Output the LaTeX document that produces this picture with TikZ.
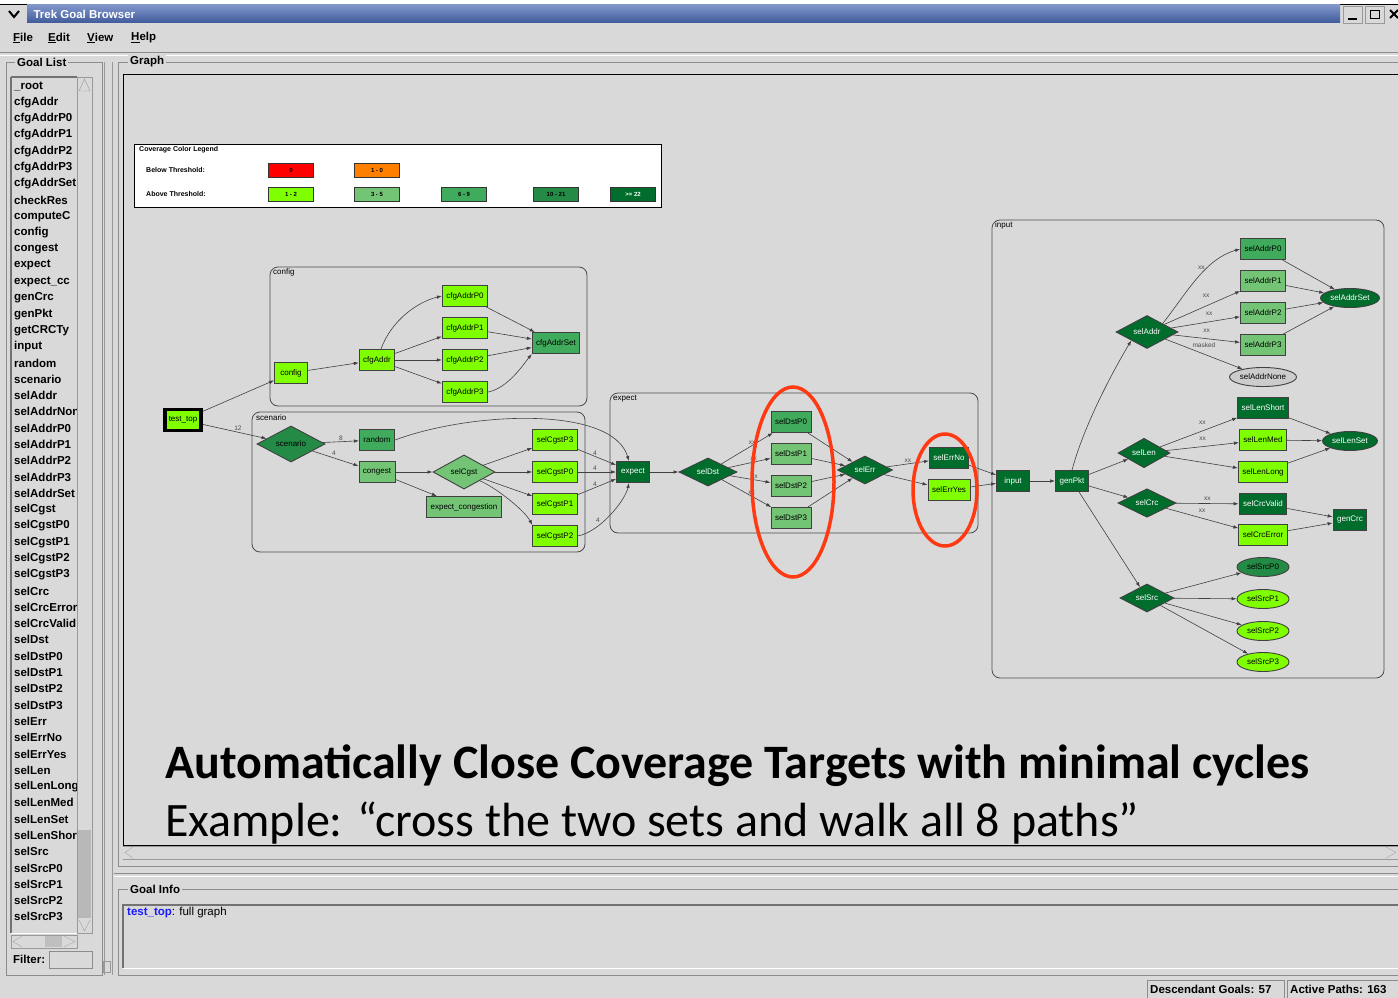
\documentclass[tikz,border=0pt]{standalone}
\usepackage{fontspec}
\setmainfont{Liberation Sans}
\newfontfamily\talkfont{Carlito}
\usetikzlibrary{arrows.meta,shapes.geometric}

\definecolor{guigray}{HTML}{D9D9D9}
\definecolor{titleblue}{HTML}{4A69B5}
\definecolor{cLime}{HTML}{80FF00}
\definecolor{cLight}{HTML}{74C476}
\definecolor{cMed}{HTML}{41AB5D}
\definecolor{cDark}{HTML}{238B45}
\definecolor{cDarkest}{HTML}{006D2C}
\definecolor{cOrange}{HTML}{FF8000}
\definecolor{ringred}{HTML}{FF3A12}
\definecolor{linkblue}{HTML}{1A1AFF}

\newcommand{\gfont}{\fontsize{8}{9}\selectfont}
\newcommand{\uifont}{\fontsize{11.5}{12}\selectfont\bfseries}

\begin{document}
\begin{tikzpicture}[x=1pt, y=-1pt,
    gbox/.style={draw=black!75, line width=0.9pt, rectangle, minimum height=21, minimum width=33, inner xsep=4pt, font=\gfont},
    gdia/.style={draw=black!75, line width=0.9pt, diamond, minimum width=58, minimum height=28, inner sep=0pt, font=\gfont},
    gell/.style={draw=black!75, line width=0.9pt, ellipse, minimum width=52, minimum height=19, inner sep=0pt, font=\gfont},
    dk/.style={fill=cDarkest, text=white},
    gedge/.style={-{Latex[length=5pt,width=3.5pt]}, draw=black!75, line width=0.6pt},
    elbl/.style={font=\fontsize{6.5}{7}\selectfont, text=black!70, inner sep=1pt},
    cluster/.style={draw=black!70, line width=0.8pt, rounded corners=8pt},
    swatch/.style={draw=black!80, minimum width=45, minimum height=14, inner sep=0pt, font=\fontsize{6}{6}\selectfont\bfseries},
    ring/.style={draw=ringred, line width=3.5pt},
    ui/.style={font=\uifont, inner sep=1pt},
    frametitle/.style={font=\uifont, fill=guigray, inner sep=2pt, anchor=west}]

    % window background
    \useasboundingbox (0,0) rectangle (1398,998);
    \fill[guigray] (0,0) rectangle (1398,998);
    \fill[white] (0,0) rectangle (1398,4);
    \draw[black, line width=1pt] (0,4.5) -- (1398,4.5);

    % title bar
    \shade[top color=titleblue!70!white, bottom color=titleblue!85!black] (27,5) rectangle (1340,23);
    \draw[black, line width=2pt] (9,11) -- (14,17) -- (19,11);
    \node[font=\fontsize{11.5}{12}\selectfont\bfseries, text=white, anchor=west] (title) at (30,14) {Trek Goal Browser};
    \draw[black!40] (1343,6) rectangle (1362,23) (1365,6) rectangle (1384,23);
    \draw[black, line width=2pt] (1348,19) -- (1357,19);
    \draw[black, line width=1pt] (1370,11) rectangle (1379,19);
    \draw[black, line width=2pt] (1390,10) -- (1398,18) (1390,18) -- (1398,10);

    % menu bar
    \node[ui, anchor=west] (mfile) at (12,38) {\underline{F}ile};
    \node[ui, anchor=west] (medit) at (47,38) {\underline{E}dit};
    \node[ui, anchor=west] (mview) at (86,38) {\underline{V}iew};
    \node[ui, anchor=west] (mhelp) at (130,38) {\underline{H}elp};
    \draw[black!45, line width=1pt] (0,53) -- (1398,53);
    \draw[white] (0,55) -- (1398,55);

    % goal list panel
    \draw[black!45] (6,62) rectangle (102,975);
    \node[frametitle] (goallist) at (15,62) {Goal List};
    \draw[black!55, line width=1.2pt] (11,77) -- (11,933);
    \draw[black!55, line width=1.2pt] (11,77) -- (77,77);
    \draw[white, line width=1pt] (11,933) -- (92,933);
    \draw[black!40] (77,77) rectangle (92,933);
    \fill[black!28] (78,830) rectangle (91,918);
    \draw[black!40] (79,91) -- (84.5,79) -- (90,91) -- cycle;
    \draw[black!40] (79,920) -- (84.5,931) -- (90,920);
    \begin{scope}
        \clip (12,78) rectangle (76,932);
        \foreach \gname [count=\i from 0] in {\_root, cfgAddr, cfgAddrP0, cfgAddrP1, cfgAddrP2, cfgAddrP3, cfgAddrSet, checkRes, computeC, config, congest, expect, expect\_cc, genCrc, genPkt, getCRCTy, input, random, scenario, selAddr, selAddrNone, selAddrP0, selAddrP1, selAddrP2, selAddrP3, selAddrSet, selCgst, selCgstP0, selCgstP1, selCgstP2, selCgstP3, selCrc, selCrcError, selCrcValid, selDst, selDstP0, selDstP1, selDstP2, selDstP3, selErr, selErrNo, selErrYes, selLen, selLenLong, selLenMed, selLenSet, selLenShort, selSrc, selSrcP0, selSrcP1, selSrcP2, selSrcP3}
            \node[ui, anchor=west, inner sep=0pt] (gl\i) at (14,{86+16.29*\i}) {\gname};
    \end{scope}
    \draw[black!40] (11,935) rectangle (77,948);
    \fill[black!25] (45,936) rectangle (62,947);
    \draw[black!35] (22,936) -- (13,941.5) -- (22,947);
    \draw[black!35] (64,936) -- (75,941.5) -- (64,947);
    \node[ui, anchor=west] (filter) at (12,959) {Filter:};
    \draw[black!45] (49,951) rectangle (92,968);
    \draw[black!40] (104,62) -- (104,975) (112,62) -- (112,975);
    \draw[black!40] (103,961) rectangle (110,972);

    % graph panel
    \draw[black!45] (118,62) -- (118,866) -- (1398,866);
    \draw[black!45] (118,62) -- (1398,62);
    \node[frametitle] (graphtitle) at (128,62) {Graph};
    \draw[black, line width=1pt] (1398,75) -- (123,75) -- (123,845) -- (1398,845);
    \draw[black!40] (123,846) -- (1398,846) (123,859) -- (1398,859);
    \draw[black!35] (133,847) -- (125,852.5) -- (133,858);
    \draw[black!35] (1386,847) -- (1396,852.5) -- (1386,858);
    \draw[black!45] (114,873) -- (1398,873);
    \draw[white] (114,876) -- (1398,876);

    % legend
    \draw[black, fill=white] (134,144) rectangle (661,207);
    \node[font=\fontsize{7}{7}\selectfont\bfseries, anchor=west, inner sep=0pt] (legtitle) at (139,150) {Coverage Color Legend};
    \node[font=\fontsize{7}{7}\selectfont\bfseries, anchor=west, inner sep=0pt] (legbelow) at (146,170) {Below Threshold:};
    \node[font=\fontsize{7}{7}\selectfont\bfseries, anchor=west, inner sep=0pt] (legabove) at (146,194) {Above Threshold:};
    \node[swatch, fill=red] (sw0) at (291,170) {0};
    \node[swatch, fill=cOrange] (sw1) at (377,170) {1 - 0};
    \node[swatch, fill=cLime] (sw2) at (291,194) {1 - 2};
    \node[swatch, fill=cLight] (sw3) at (377,194) {3 - 5};
    \node[swatch, fill=cMed] (sw4) at (464,194) {6 - 9};
    \node[swatch, fill=cDark] (sw5) at (556,194) {10 - 21};
    \node[swatch, fill=cDarkest, text=white] (sw6) at (633,194) {>= 22};

    % clusters
    \draw[cluster] (270,267) rectangle (587,406);
    \node[font=\gfont, anchor=north west, inner sep=1pt] (clconfig) at (272,268) {config};
    \draw[cluster] (252,412) rectangle (585,552);
    \node[font=\gfont, anchor=north west, inner sep=1pt] (clscen) at (255,413) {scenario};
    \draw[cluster] (610,393) rectangle (978,533);
    \node[font=\gfont, anchor=north west, inner sep=1pt] (clexpect) at (612,394) {expect};
    \draw[cluster] (992,220) rectangle (1384,678);
    \node[font=\gfont, anchor=north west, inner sep=1pt] (clinput) at (994,221) {input};

    % root
    \node[gbox, fill=cLime, line width=3.5pt, draw=black] (test) at (183,420) {test\_top};

    % config
    \node[gbox, fill=cLime] (config) at (291,373) {config};
    \node[gbox, fill=cLime] (cfgAddr) at (377,360) {cfgAddr};
    \node[gbox, fill=cLime] (cfgAddrP0) at (465,296) {cfgAddrP0};
    \node[gbox, fill=cLime] (cfgAddrP1) at (465,328) {cfgAddrP1};
    \node[gbox, fill=cLime] (cfgAddrP2) at (465,360) {cfgAddrP2};
    \node[gbox, fill=cLime] (cfgAddrP3) at (465,392) {cfgAddrP3};
    \node[gbox, fill=cMed] (cfgAddrSet) at (556,343) {cfgAddrSet};

    % scenario
    \node[gdia, fill=cDark, minimum width=68] (scen) at (291,444) {scenario};
    \node[gbox, fill=cMed] (random) at (377,440) {random};
    \node[gbox, fill=cLight] (congest) at (377,472) {congest};
    \node[gdia, fill=cLight, minimum width=62] (selCgst) at (464,472) {selCgst};
    \node[gbox, fill=cLight] (expcong) at (464,507) {expect\_congestion};
    \node[gbox, fill=cLime] (selCgstP3) at (555,440) {selCgstP3};
    \node[gbox, fill=cLime] (selCgstP0) at (555,472) {selCgstP0};
    \node[gbox, fill=cLime] (selCgstP1) at (555,504) {selCgstP1};
    \node[gbox, fill=cLime] (selCgstP2) at (555,536) {selCgstP2};

    % expect
    \node[gbox, dk] (expect) at (633,472) {expect};
    \node[gdia, dk] (selDst) at (708,472) {selDst};
    \node[gbox, fill=cMed] (selDstP0) at (791,422) {selDstP0};
    \node[gbox, fill=cLight] (selDstP1) at (791,454) {selDstP1};
    \node[gbox, fill=cLight] (selDstP2) at (791,486) {selDstP2};
    \node[gbox, fill=cLight] (selDstP3) at (791,518) {selDstP3};
    \node[gdia, dk, minimum width=55] (selErr) at (865,470) {selErr};
    \node[gbox, dk] (selErrNo) at (949,458) {selErrNo};
    \node[gbox, fill=cLime] (selErrYes) at (949,490) {selErrYes};

    % input
    \node[gbox, dk] (input) at (1013,481) {input};
    \node[gbox, dk] (genPkt) at (1072,481) {genPkt};
    \node[gdia, dk, minimum width=62] (selAddr) at (1147,332) {selAddr};
    \node[gbox, fill=cMed] (selAddrP0) at (1263,249) {selAddrP0};
    \node[gbox, fill=cLight] (selAddrP1) at (1263,281) {selAddrP1};
    \node[gbox, fill=cLight] (selAddrP2) at (1263,313) {selAddrP2};
    \node[gbox, fill=cLight] (selAddrP3) at (1263,345) {selAddrP3};
    \node[gell, dk, minimum width=59] (selAddrSet) at (1350,298) {selAddrSet};
    \node[gell, fill=black!20, minimum width=67] (selAddrNone) at (1263,377) {selAddrNone};
    \node[gdia, dk, minimum width=52] (selLen) at (1144,453) {selLen};
    \node[gbox, dk] (selLenShort) at (1263,408) {selLenShort};
    \node[gbox, fill=cLime] (selLenMed) at (1263,440) {selLenMed};
    \node[gbox, fill=cLime] (selLenLong) at (1263,472) {selLenLong};
    \node[gell, dk, minimum width=55] (selLenSet) at (1350,441) {selLenSet};
    \node[gdia, dk] (selCrc) at (1147,503) {selCrc};
    \node[gbox, dk] (selCrcValid) at (1263,504) {selCrcValid};
    \node[gbox, fill=cLime] (selCrcError) at (1263,535) {selCrcError};
    \node[gbox, dk] (genCrc) at (1350,520) {genCrc};
    \node[gdia, dk, minimum width=54] (selSrc) at (1147,598) {selSrc};
    \node[gell, fill=cDark] (selSrcP0) at (1263,567) {selSrcP0};
    \node[gell, fill=cLime] (selSrcP1) at (1263,599) {selSrcP1};
    \node[gell, fill=cLime] (selSrcP2) at (1263,631) {selSrcP2};
    \node[gell, fill=cLime] (selSrcP3) at (1263,662) {selSrcP3};

    % edges: config
    \draw[gedge] (test) -- (config);
    \draw[gedge] (config) -- (cfgAddr);
    \draw[gedge] (cfgAddr.70) .. controls +(10,-28) and +(-25,6) .. (cfgAddrP0.west);
    \draw[gedge] (cfgAddr) -- (cfgAddrP1);
    \draw[gedge] (cfgAddr) -- (cfgAddrP2);
    \draw[gedge] (cfgAddr) -- (cfgAddrP3);
    \draw[gedge] (cfgAddrP0) -- (cfgAddrSet);
    \draw[gedge] (cfgAddrP1) -- (cfgAddrSet);
    \draw[gedge] (cfgAddrP2) -- (cfgAddrSet);
    \draw[gedge] (cfgAddrP3.east) .. controls +(20,-4) and +(-8,10) .. (cfgAddrSet.south west);

    % edges: scenario
    \draw[gedge] (test) -- node[elbl, above, pos=0.55] {12} (scen);
    \draw[gedge] (scen) -- node[elbl, above] {8} (random);
    \draw[gedge] (scen) -- node[elbl, above right, pos=0.4] {4} (congest);
    \draw[gedge] (congest) -- (selCgst);
    \draw[gedge] (congest) -- (expcong);
    \draw[gedge] (selCgst) -- (selCgstP3);
    \draw[gedge] (selCgst) -- (selCgstP0);
    \draw[gedge] (selCgst) -- (selCgstP1);
    \draw[gedge] (selCgst.south east) .. controls +(15,6) and +(-8,-15) .. (selCgstP2.north west);
    \draw[gedge] (random.east) .. controls (470,412) and (612,405) .. (expect.110);
    \draw[gedge] (selCgstP3) -- node[elbl, above, pos=0.45] {4} (expect);
    \draw[gedge] (selCgstP0) -- node[elbl, above, pos=0.45] {4} (expect);
    \draw[gedge] (selCgstP1) -- node[elbl, above, pos=0.45] {4} (expect);
    \draw[gedge] (selCgstP2.east) .. controls +(22,-4) and +(-4,18) .. node[elbl, above left, pos=0.35] {4} (expect.250);

    % edges: expect
    \draw[gedge] (expect) -- (selDst);
    \draw[gedge] (selDst) -- node[elbl, above, pos=0.6] {xx} (selDstP0);
    \draw[gedge] (selDst) -- node[elbl, above, pos=0.6] {xx} (selDstP1);
    \draw[gedge] (selDst) -- node[elbl, above, pos=0.6] {xx} (selDstP2);
    \draw[gedge] (selDst) -- node[elbl, above, pos=0.6] {xx} (selDstP3);
    \draw[gedge] (selDstP0) -- (selErr);
    \draw[gedge] (selDstP1) -- (selErr);
    \draw[gedge] (selDstP2) -- (selErr);
    \draw[gedge] (selDstP3) -- (selErr);
    \draw[gedge] (selErr) -- node[elbl, above, pos=0.5] {xx} (selErrNo);
    \draw[gedge] (selErr) -- (selErrYes);
    \draw[gedge] (selErrNo) -- (input);
    \draw[gedge] (selErrYes) -- (input);

    % edges: input
    \draw[gedge] (input) -- (genPkt);
    \draw[gedge] (genPkt.north) .. controls +(12,-45) and +(-18,30) .. (selAddr.south west);
    \draw[gedge] (genPkt) -- (selLen);
    \draw[gedge] (genPkt) -- (selCrc);
    \draw[gedge] (genPkt) -- (selSrc);
    \draw[gedge] (selAddr.north east) .. controls +(25,-32) and +(-35,10) .. node[elbl, above=3pt, pos=0.55] {xx} (selAddrP0.west);
    \draw[gedge] (selAddr) -- node[elbl, above=7pt, pos=0.55] {xx} (selAddrP1);
    \draw[gedge] (selAddr) -- node[elbl, above=5pt, pos=0.55] {xx} (selAddrP2);
    \draw[gedge] (selAddr) -- node[elbl, above=5pt, pos=0.5] {xx} (selAddrP3);
    \draw[gedge] (selAddr) -- node[elbl, above=5pt, pos=0.5] {masked} (selAddrNone);
    \draw[gedge] (selAddrP0) -- (selAddrSet);
    \draw[gedge] (selAddrP1) -- (selAddrSet);
    \draw[gedge] (selAddrP2) -- (selAddrSet);
    \draw[gedge] (selAddrP3) -- (selAddrSet);
    \draw[gedge] (selLen) -- node[elbl, above=5pt, pos=0.55] {xx} (selLenShort);
    \draw[gedge] (selLen) -- node[elbl, above=5pt, pos=0.5] {xx} (selLenMed);
    \draw[gedge] (selLen) -- (selLenLong);
    \draw[gedge] (selLenShort) -- (selLenSet);
    \draw[gedge] (selLenMed) -- (selLenSet);
    \draw[gedge] (selLenLong) -- (selLenSet);
    \draw[gedge] (selCrc) -- node[elbl, above=2pt, pos=0.5] {xx} (selCrcValid);
    \draw[gedge] (selCrc) -- node[elbl, above=4pt, pos=0.5] {xx} (selCrcError);
    \draw[gedge] (selCrcValid) -- (genCrc);
    \draw[gedge] (selCrcError) -- (genCrc);
    \draw[gedge] (selSrc) -- (selSrcP0);
    \draw[gedge] (selSrc) -- (selSrcP1);
    \draw[gedge] (selSrc) -- (selSrcP2);
    \draw[gedge] (selSrc) -- (selSrcP3);

    % highlight rings
    \draw[ring] (793,482) ellipse [x radius=41, y radius=95];
    \draw[ring] (945,490) ellipse [x radius=32, y radius=56];

    % slide text
    \node[font=\talkfont\fontsize{48}{54}\selectfont\bfseries, anchor=base west, inner sep=0pt] (headline) at (165,778) {Automatically Close Coverage Targets with minimal cycles};
    \node[font=\talkfont\fontsize{48}{54}\selectfont, anchor=base west, inner sep=0pt] (subline) at (165,836) {Example: “cross the two sets and walk all 8 paths”};

    % goal info panel
    \draw[black!45] (118,889) -- (118,975) -- (1398,975);
    \draw[black!45] (118,889) -- (1398,889);
    \node[frametitle] (goalinfo) at (128,889) {Goal Info};
    \draw[black!55, line width=1.2pt] (123,968) -- (123,905) -- (1398,905);
    \draw[white, line width=1pt] (123,968) -- (1398,968);
    \node[font=\fontsize{11.5}{12}\selectfont, anchor=west, inner sep=0pt] (info) at (127,913) {\textcolor{linkblue}{\textbf{test\_top}}: full graph};

    % status bar
    \draw[black!45] (1147,980) rectangle (1284,998);
    \draw[black!45] (1287,980) rectangle (1400,998);
    \node[ui, anchor=west] (descgoals) at (1149,989) {Descendant Goals: 57};
    \node[ui, anchor=west] (actpaths) at (1289,989) {Active Paths: 163};
\end{tikzpicture}
\end{document}
